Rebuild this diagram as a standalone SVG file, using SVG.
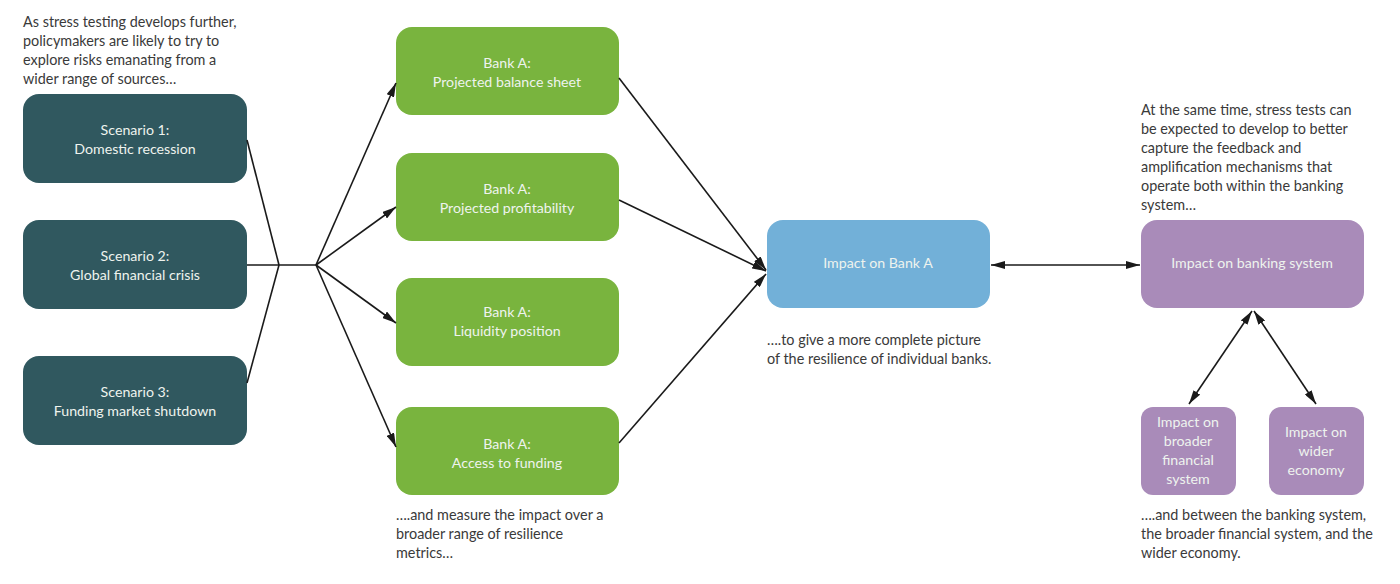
<svg xmlns="http://www.w3.org/2000/svg" width="1400" height="584" viewBox="0 0 1400 584">
<defs>
<style>
.t{font-family:Lato,"Liberation Sans",sans-serif;font-size:14.4px;fill:#3a3a3a}
.b{font-family:Lato,"Liberation Sans",sans-serif;font-size:14.2px;fill:#eef3ee;text-anchor:middle}
.sc{fill:#30585f}
.gr{fill:#79b43e}
.bl{fill:#72b0d8}
.pu{fill:#a98bb9}
.ln{stroke:#1a1a1a;stroke-width:1.6;fill:none}
</style>
<marker id="ah" viewBox="0 0 14 8" refX="14" refY="4" markerWidth="14" markerHeight="8" markerUnits="userSpaceOnUse" orient="auto-start-reverse">
<path d="M0,0 L14,4 L0,8 Z" fill="#1a1a1a"/>
</marker>
</defs>
<rect width="1400" height="584" fill="#ffffff"/>

<g id="intro-text">
<text class="t" x="23" y="27">As stress testing develops further,</text>
<text class="t" x="23" y="46">policymakers are likely to try to</text>
<text class="t" x="23" y="65">explore risks emanating from a</text>
<text class="t" x="23" y="84">wider range of sources…</text>
</g>

<g id="scenario1"><rect class="sc" x="23" y="94" width="224" height="89" rx="16"/>
<text class="b" x="135" y="135">Scenario 1:</text><text class="b" x="135" y="154">Domestic recession</text></g>
<g id="scenario2"><rect class="sc" x="23" y="220" width="224" height="89" rx="16"/>
<text class="b" x="135" y="261">Scenario 2:</text><text class="b" x="135" y="280">Global financial crisis</text></g>
<g id="scenario3"><rect class="sc" x="23" y="356" width="224" height="89" rx="16"/>
<text class="b" x="135" y="397">Scenario 3:</text><text class="b" x="135" y="416">Funding market shutdown</text></g>

<g id="bankA-balance"><rect class="gr" x="396" y="27" width="223" height="88" rx="16"/>
<text class="b" x="507" y="68">Bank A:</text><text class="b" x="507" y="87">Projected balance sheet</text></g>
<g id="bankA-profit"><rect class="gr" x="396" y="153" width="223" height="88" rx="16"/>
<text class="b" x="507" y="194">Bank A:</text><text class="b" x="507" y="213">Projected profitability</text></g>
<g id="bankA-liquidity"><rect class="gr" x="396" y="278" width="223" height="88" rx="16"/>
<text class="b" x="507" y="317">Bank A:</text><text class="b" x="507" y="336">Liquidity position</text></g>
<g id="bankA-funding"><rect class="gr" x="396" y="407" width="223" height="88" rx="16"/>
<text class="b" x="507" y="449">Bank A:</text><text class="b" x="507" y="468">Access to funding</text></g>

<g id="impact-bankA"><rect class="bl" x="767" y="220" width="223" height="88" rx="16"/>
<text class="b" x="878" y="268">Impact on Bank A</text></g>
<g id="impact-banking"><rect class="pu" x="1141" y="220" width="223" height="88" rx="16"/>
<text class="b" x="1252" y="268">Impact on banking system</text></g>
<g id="impact-financial"><rect class="pu" x="1141" y="407" width="95" height="88" rx="12"/>
<text class="b" x="1188" y="427">Impact on</text><text class="b" x="1188" y="446">broader</text><text class="b" x="1188" y="465">financial</text><text class="b" x="1188" y="484">system</text></g>
<g id="impact-economy"><rect class="pu" x="1269" y="407" width="95" height="88" rx="12"/>
<text class="b" x="1316" y="437">Impact on</text><text class="b" x="1316" y="456">wider</text><text class="b" x="1316" y="475">economy</text></g>

<g id="notes">
<text class="t" x="396" y="520">….and measure the impact over a</text>
<text class="t" x="396" y="539">broader range of resilience</text>
<text class="t" x="396" y="558">metrics…</text>
<text class="t" x="767" y="345">….to give a more complete picture</text>
<text class="t" x="767" y="364">of the resilience of individual banks.</text>
<text class="t" x="1141" y="115">At the same time, stress tests can</text>
<text class="t" x="1141" y="134">be expected to develop to better</text>
<text class="t" x="1141" y="153">capture the feedback and</text>
<text class="t" x="1141" y="172">amplification mechanisms that</text>
<text class="t" x="1141" y="191">operate both within the banking</text>
<text class="t" x="1141" y="210">system…</text>
<text class="t" x="1141" y="520">….and between the banking system,</text>
<text class="t" x="1141" y="539">the broader financial system, and the</text>
<text class="t" x="1141" y="558">wider economy.</text>
</g>

<g id="connectors">
<polyline class="ln" points="247,140 279,265"/>
<polyline class="ln" points="247,383 279,265"/>
<polyline class="ln" points="247,265 316,265"/>
<line class="ln" x1="316" y1="265" x2="396" y2="83" marker-end="url(#ah)"/>
<line class="ln" x1="316" y1="265" x2="396" y2="207" marker-end="url(#ah)"/>
<line class="ln" x1="316" y1="265" x2="396" y2="323" marker-end="url(#ah)"/>
<line class="ln" x1="316" y1="265" x2="396" y2="447" marker-end="url(#ah)"/>
<line class="ln" x1="619" y1="78" x2="766" y2="270" marker-end="url(#ah)"/>
<line class="ln" x1="619" y1="200" x2="766" y2="271" marker-end="url(#ah)"/>
<line class="ln" x1="619" y1="443" x2="766" y2="274" marker-end="url(#ah)"/>
<line class="ln" x1="991" y1="265" x2="1140" y2="265" marker-start="url(#ah)" marker-end="url(#ah)"/>
<line class="ln" x1="1252" y1="311" x2="1189" y2="404" marker-start="url(#ah)" marker-end="url(#ah)"/>
<line class="ln" x1="1254" y1="311" x2="1316" y2="404" marker-start="url(#ah)" marker-end="url(#ah)"/>
</g>
</svg>
